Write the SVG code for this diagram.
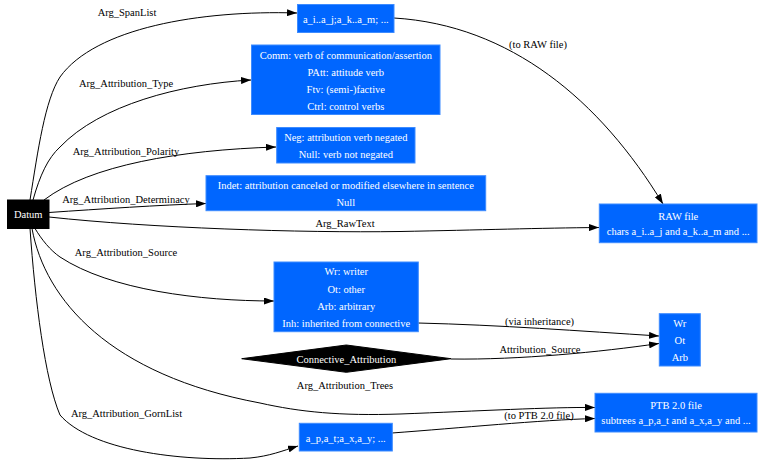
<svg xmlns="http://www.w3.org/2000/svg" width="759" height="461" viewBox="0 0 759 461" font-family="'Liberation Serif', 'DejaVu Serif', serif">
  <style>
    text { font-family: "Liberation Serif", "DejaVu Serif", serif; font-size: 10.5px; text-anchor: middle; }
    .box { fill: #0066ff; stroke: #3d8bff; stroke-width: 1; }
    .dark { fill: #000000; stroke: #000000; stroke-width: 1; }
    .in { fill: #ffffff; }
    .lbl { fill: #000000; }
    .edge { fill: none; stroke: #000000; stroke-width: 1; marker-end: url(#arrow); }
  </style>
  <defs>
    <marker id="arrow" markerUnits="userSpaceOnUse" markerWidth="10" markerHeight="7" refX="10" refY="3.5" orient="auto">
      <path d="M0,0 L10,3.5 L0,7 Z" fill="#000000"/>
    </marker>
  </defs>
  <rect width="759" height="461" fill="#ffffff"/>

  <g id="connectors">
    <path class="edge" d="M30,200 C38,150 45,100 60,77 C95,28 200,10 297,13"/>
    <path class="edge" d="M33,200 C40,175 48,158 60,147 C100,105 180,84 251,80"/>
    <path class="edge" d="M44,200 C90,165 180,150 276,147"/>
    <path class="edge" d="M49,212.5 C100,209 160,205 206,203.5"/>
    <path class="edge" d="M49,217 C150,228 300,233 400,231.5 C480,230 540,228 599,227.5"/>
    <path class="edge" d="M35,228.5 C42,240 50,250 60,257 C110,290 200,301 274,301"/>
    <path class="edge" d="M32,228.5 C45,300 110,375 260,403 C300,412 340,416 400,414 C480,411 550,407 595,407.5"/>
    <path class="edge" d="M30,228.5 C35,300 45,380 60,415 C90,450 180,462 250,458 C270,456 282,451 298,446"/>
    <path class="edge" d="M394,18 C510,25 600,100 663,204"/>
    <path class="edge" d="M418,323 C500,325 580,331 659,336"/>
    <path class="edge" d="M451,359 C520,360 600,352 659,343.5"/>
    <path class="edge" d="M392,433 C460,428 540,420 595,418.5"/>

    <text class="lbl" x="127" y="16">Arg_SpanList</text>
    <text class="lbl" x="126" y="87">Arg_Attribution_Type</text>
    <text class="lbl" x="126" y="155">Arg_Attribution_Polarity</text>
    <text class="lbl" x="126" y="203">Arg_Attribution_Determinacy</text>
    <text class="lbl" x="345" y="227">Arg_RawText</text>
    <text class="lbl" x="126" y="256">Arg_Attribution_Source</text>
    <text class="lbl" x="345" y="389">Arg_Attribution_Trees</text>
    <text class="lbl" x="126.5" y="417">Arg_Attribution_GornList</text>
    <text class="lbl" x="538" y="47.5">(to RAW file)</text>
    <text class="lbl" x="539.5" y="325">(via inheritance)</text>
    <text class="lbl" x="540" y="353">Attribution_Source</text>
    <text class="lbl" x="539" y="418.5">(to PTB 2.0 file)</text>
  </g>

  <g id="datum">
    <rect class="dark" x="7.5" y="200" width="41.5" height="28.5"/>
    <text class="in" x="28.2" y="218">Datum</text>
  </g>

  <g id="spanlist">
    <rect class="box" x="297.5" y="4.5" width="96.5" height="28"/>
    <text class="in" x="345.8" y="22.5">a_i..a_j;a_k..a_m; ...</text>
  </g>

  <g id="attribution-type">
    <rect class="box" x="251.5" y="45" width="188.5" height="69.5"/>
    <text class="in" x="345.8" y="58.5">Comm: verb of communication/assertion</text>
    <text class="in" x="345.8" y="75.8">PAtt: attitude verb</text>
    <text class="in" x="345.8" y="93">Ftv: (semi-)factive</text>
    <text class="in" x="345.8" y="110.2">Ctrl: control verbs</text>
  </g>

  <g id="attribution-polarity">
    <rect class="box" x="276.7" y="127.5" width="138.3" height="35.5"/>
    <text class="in" x="345.8" y="141">Neg: attribution verb negated</text>
    <text class="in" x="345.8" y="158">Null: verb not negated</text>
  </g>

  <g id="attribution-determinacy">
    <rect class="box" x="206" y="175.7" width="279.7" height="35"/>
    <text class="in" x="345.8" y="188.5">Indet: attribution canceled or modified elsewhere in sentence</text>
    <text class="in" x="345.8" y="206">Null</text>
  </g>

  <g id="raw-file">
    <rect class="box" x="599.3" y="204" width="157.7" height="38.7"/>
    <text class="in" x="678.2" y="219.5">RAW file</text>
    <text class="in" x="678.2" y="235">chars a_i..a_j and a_k..a_m and ...</text>
  </g>

  <g id="attribution-source">
    <rect class="box" x="274" y="262" width="144.3" height="69.7"/>
    <text class="in" x="346.2" y="275">Wr: writer</text>
    <text class="in" x="346.2" y="292.5">Ot: other</text>
    <text class="in" x="346.2" y="310">Arb: arbitrary</text>
    <text class="in" x="346.2" y="327">Inh: inherited from connective</text>
  </g>

  <g id="connective-attribution">
    <polygon class="dark" points="346.3,345 451,358.7 346.3,372.3 241.7,358.7"/>
    <text class="in" x="346.3" y="363">Connective_Attribution</text>
  </g>

  <g id="source-values">
    <rect class="box" x="659.3" y="313.7" width="41" height="52.3"/>
    <text class="in" x="679.8" y="327">Wr</text>
    <text class="in" x="679.8" y="344">Ot</text>
    <text class="in" x="679.8" y="361">Arb</text>
  </g>

  <g id="ptb-file">
    <rect class="box" x="595" y="393.3" width="162" height="38.7"/>
    <text class="in" x="676" y="408.5">PTB 2.0 file</text>
    <text class="in" x="676" y="424">subtrees a_p,a_t and a_x,a_y and ...</text>
  </g>

  <g id="gornlist">
    <rect class="box" x="299.3" y="423.3" width="93" height="27.7"/>
    <text class="in" x="345.8" y="441.5">a_p,a_t;a_x,a_y; ...</text>
  </g>
</svg>
